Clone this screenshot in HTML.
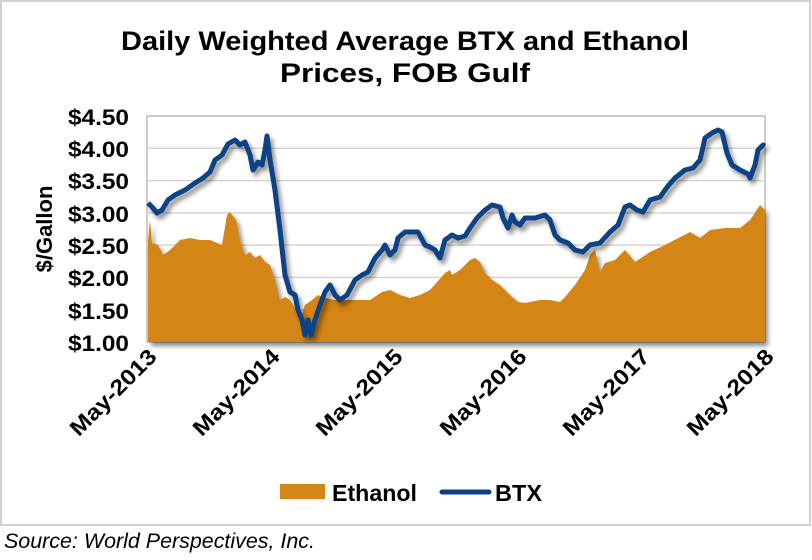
<!DOCTYPE html>
<html><head><meta charset="utf-8"><style>
body{margin:0;background:#fff;width:812px;height:555px;overflow:hidden;font-family:"Liberation Sans",Arial,sans-serif}
</style></head><body>
<svg width="812" height="555" xmlns="http://www.w3.org/2000/svg" font-family="Liberation Sans, Arial, sans-serif">
<defs><filter id="sh" x="-5%" y="-5%" width="110%" height="115%"><feGaussianBlur in="SourceAlpha" stdDeviation="2.5"/><feOffset dx="3" dy="4"/><feComponentTransfer><feFuncA type="linear" slope="0.45"/></feComponentTransfer><feMerge><feMergeNode/><feMergeNode in="SourceGraphic"/></feMerge></filter></defs>
<rect x="1" y="1" width="809" height="524" fill="#fff" stroke="#d0d0d0" stroke-width="2"/>
<text x="405" y="50" font-size="27" font-weight="bold" text-anchor="middle" textLength="568" lengthAdjust="spacingAndGlyphs">Daily Weighted Average BTX and Ethanol</text>
<text x="405" y="82" font-size="27" font-weight="bold" text-anchor="middle" textLength="250" lengthAdjust="spacingAndGlyphs">Prices, FOB Gulf</text>
<rect x="147" y="116" width="618" height="226" fill="#fff" stroke="#bbb" stroke-width="1.5"/>
<g stroke="#d4d4d4" stroke-width="1.5">
<line x1="147" x2="765" y1="148.3" y2="148.3"/><line x1="147" x2="765" y1="180.6" y2="180.6"/><line x1="147" x2="765" y1="212.9" y2="212.9"/><line x1="147" x2="765" y1="245.1" y2="245.1"/><line x1="147" x2="765" y1="277.4" y2="277.4"/><line x1="147" x2="765" y1="309.7" y2="309.7"/></g>
<polygon filter="url(#sh)" fill="#d38518" points="148,342 148,240 150,220 152,243 158,245 163,255 170,250 180,240 190,238 200,240 210,240 222,245 227,215 230,212 236,220 240,240 245,255 250,252 255,258 260,255 265,262 270,265 275,280 280,300 285,297 290,300 295,308 300,320 305,305 312,300 318,295 325,298 335,300 345,300 355,300 370,300 382,292 390,290 400,295 410,298 420,295 430,290 445,273 450,270 452,275 460,270 470,260 475,258 480,262 485,273 492,280 500,285 505,290 510,295 518,302 525,303 540,300 550,300 560,302 565,297 575,285 585,270 590,255 595,250 600,272 605,263 615,260 625,250 635,262 650,252 665,245 690,232 700,238 710,230 725,228 740,228 750,220 760,205 765,210 765,342"/>
<polyline filter="url(#sh)" fill="none" stroke="#0b4285" stroke-width="5" stroke-linejoin="round" points="148,203 152,207 157,213 162,210 168,200 175,195 185,190 195,183 203,178 210,172 215,160 222,155 228,144 235,140 240,145 245,142 250,155 253,170 258,162 262,165 265,150 267,136 270,160 275,190 280,230 285,275 290,292 295,295 298,310 302,320 305,335 308,320 311,335 315,320 320,305 325,292 330,285 335,295 340,300 347,295 355,280 362,275 368,272 375,258 382,250 385,245 390,255 395,250 398,238 405,232 412,232 418,232 425,245 430,247 435,250 440,258 445,240 452,235 458,238 465,236 470,228 477,218 485,210 492,205 500,207 503,218 508,228 512,215 515,222 520,225 525,218 535,218 545,215 550,220 555,235 560,240 568,243 575,250 583,252 590,245 600,243 610,232 618,225 625,207 630,205 637,210 643,212 650,200 660,197 668,186 675,178 685,170 693,168 700,160 705,138 712,133 718,130 722,132 727,153 732,165 740,170 748,174 750,178 755,165 758,150 763,145 765,146"/>
<g font-size="22" font-weight="bold" text-anchor="end">
<text x="129" y="125" textLength="61" lengthAdjust="spacingAndGlyphs">$4.50</text><text x="129" y="157" textLength="61" lengthAdjust="spacingAndGlyphs">$4.00</text><text x="129" y="189" textLength="61" lengthAdjust="spacingAndGlyphs">$3.50</text><text x="129" y="222" textLength="61" lengthAdjust="spacingAndGlyphs">$3.00</text><text x="129" y="254" textLength="61" lengthAdjust="spacingAndGlyphs">$2.50</text><text x="129" y="286" textLength="61" lengthAdjust="spacingAndGlyphs">$2.00</text><text x="129" y="319" textLength="61" lengthAdjust="spacingAndGlyphs">$1.50</text><text x="129" y="351" textLength="61" lengthAdjust="spacingAndGlyphs">$1.00</text></g>
<text transform="translate(52,229) rotate(-90)" font-size="22" font-weight="bold" text-anchor="middle">$/Gallon</text>
<g font-size="22" font-weight="bold" text-anchor="end">
<text transform="translate(158,358) rotate(-45)" textLength="112" lengthAdjust="spacingAndGlyphs">May-2013</text>
<text transform="translate(281,358) rotate(-45)" textLength="112" lengthAdjust="spacingAndGlyphs">May-2014</text>
<text transform="translate(404,358) rotate(-45)" textLength="112" lengthAdjust="spacingAndGlyphs">May-2015</text>
<text transform="translate(528,358) rotate(-45)" textLength="112" lengthAdjust="spacingAndGlyphs">May-2016</text>
<text transform="translate(651,358) rotate(-45)" textLength="112" lengthAdjust="spacingAndGlyphs">May-2017</text>
<text transform="translate(775,358) rotate(-45)" textLength="112" lengthAdjust="spacingAndGlyphs">May-2018</text></g>
<rect x="280" y="484" width="45" height="15" fill="#d38518"/>
<text x="332" y="501" font-size="23" font-weight="bold" textLength="85" lengthAdjust="spacingAndGlyphs">Ethanol</text>
<line x1="442" x2="489" y1="492" y2="492" stroke="#0b4285" stroke-width="5" stroke-linecap="round"/>
<text x="495" y="501" font-size="23" font-weight="bold" textLength="47" lengthAdjust="spacingAndGlyphs">BTX</text>
<text x="4" y="548" font-size="21" font-style="italic" textLength="311" lengthAdjust="spacingAndGlyphs">Source: World Perspectives, Inc.</text>
</svg>
</body></html>
